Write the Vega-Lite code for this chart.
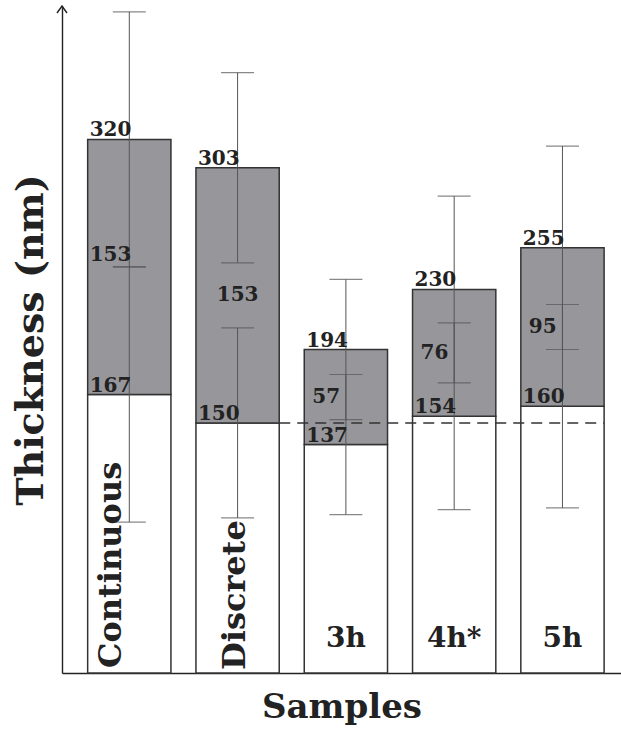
{
  "$schema": "https://vega.github.io/schema/vega-lite/v6.json",
  "autosize": "none",
  "width": 559,
  "height": 667,
  "padding": {"left": 62, "top": 6, "right": 0, "bottom": 60},
  "background": "white",
  "config": {"view": {"stroke": null}, "font": "DejaVu Serif"},
  "datasets": {
    "bars": [
      {"sample": "Continuous", "base": 167, "top": 320, "thick": 153},
      {"sample": "Discrete", "base": 150, "top": 303, "thick": 153},
      {"sample": "3h", "base": 137, "top": 194, "thick": 57},
      {"sample": "4h*", "base": 154, "top": 230, "thick": 76},
      {"sample": "5h", "base": 160, "top": 255, "thick": 95}
    ],
    "errs": [
      {"sample": "Continuous", "center": 167, "err": 76.5},
      {"sample": "Continuous", "center": 320, "err": 76.5},
      {"sample": "Discrete", "center": 150, "err": 57},
      {"sample": "Discrete", "center": 303, "err": 57},
      {"sample": "3h", "center": 137, "err": 42},
      {"sample": "3h", "center": 194, "err": 42},
      {"sample": "4h*", "center": 154, "err": 56},
      {"sample": "4h*", "center": 230, "err": 56},
      {"sample": "5h", "center": 160, "err": 61},
      {"sample": "5h", "center": 255, "err": 61}
    ]
  },
  "resolve": {"scale": {"x": "independent"}},
  "layer": [
    {
      "encoding": {
        "x": {
          "field": "sample", "type": "nominal", "sort": null,
          "scale": {"domain": ["Continuous", "Discrete", "3h", "4h*", "5h"], "paddingInner": 0.231, "paddingOuter": 0.1965, "align": 0.603},
          "axis": {"title": "Samples", "labels": false, "ticks": false, "domain": true, "domainColor": "#222", "domainWidth": 1.4, "titleFont": "DejaVu Serif", "titleFontWeight": "bold", "titleFontSize": 34, "titleColor": "#222", "titlePadding": 17}
        },
        "y": {
          "type": "quantitative",
          "scale": {"domain": [0, 400], "nice": false},
          "axis": {"title": "Thickness (nm)", "labels": false, "ticks": false, "grid": false, "domain": true, "domainColor": "#222", "domainWidth": 1.4, "titleFont": "DejaVu Serif", "titleFontWeight": "bold", "titleFontSize": 38, "titleColor": "#222", "titlePadding": 12}
        }
      },
      "layer": [
        {
          "data": {"name": "bars"},
          "mark": {"type": "bar", "fill": "white", "stroke": "#333", "strokeWidth": 1.5},
          "encoding": {"y": {"field": "base", "type": "quantitative"}}
        },
        {
          "data": {"name": "bars"},
          "mark": {"type": "bar", "fill": "#97979b", "stroke": "#333", "strokeWidth": 1.5},
          "encoding": {"y": {"field": "base", "type": "quantitative"}, "y2": {"field": "top"}}
        },
        {
          "data": {"values": [{"line": "reference"}]},
          "mark": {"type": "rule", "stroke": "#333", "strokeWidth": 1.5, "strokeDash": [11, 7]},
          "encoding": {
            "x": {"datum": "Discrete", "type": "nominal", "bandPosition": 1},
            "x2": {"datum": "5h", "bandPosition": 1},
            "y": {"datum": 150, "type": "quantitative"}
          }
        },
        {
          "data": {"name": "errs"},
          "mark": {"type": "errorbar", "ticks": {"size": 33, "color": "#555", "thickness": 1.2}, "rule": {"color": "#555", "strokeWidth": 1}},
          "encoding": {
            "y": {"field": "center", "type": "quantitative"},
            "yError": {"field": "err"}
          }
        },
        {
          "data": {"name": "bars"},
          "mark": {"type": "text", "align": "left", "baseline": "alphabetic", "dx": 2, "dy": -3, "font": "DejaVu Serif", "fontWeight": "bold", "fontSize": 20, "color": "#222"},
          "encoding": {
            "x": {"field": "sample", "type": "nominal", "bandPosition": 0},
            "y": {"field": "top", "type": "quantitative"},
            "text": {"field": "top"}
          }
        },
        {
          "data": {"name": "bars"},
          "mark": {"type": "text", "align": "left", "baseline": "alphabetic", "dx": 2, "dy": -3, "font": "DejaVu Serif", "fontWeight": "bold", "fontSize": 20, "color": "#222"},
          "encoding": {
            "x": {"field": "sample", "type": "nominal", "bandPosition": 0},
            "y": {"field": "base", "type": "quantitative"},
            "text": {"field": "base"}
          }
        },
        {
          "data": {"name": "bars"},
          "transform": [{"filter": "datum.sample != 'Continuous' && datum.sample != 'Discrete'"}, {"calculate": "(datum.base + datum.top) / 2", "as": "mid"}],
          "mark": {"type": "text", "align": "left", "baseline": "middle", "dx": 8, "font": "DejaVu Serif", "fontWeight": "bold", "fontSize": 20, "color": "#222"},
          "encoding": {
            "x": {"field": "sample", "type": "nominal", "bandPosition": 0},
            "y": {"field": "mid", "type": "quantitative"},
            "text": {"field": "thick"}
          }
        },
        {
          "data": {"name": "bars"},
          "transform": [{"filter": "datum.sample == 'Discrete'"}, {"calculate": "(datum.base + datum.top) / 2", "as": "mid"}],
          "mark": {"type": "text", "align": "center", "baseline": "middle", "font": "DejaVu Serif", "fontWeight": "bold", "fontSize": 20, "color": "#222"},
          "encoding": {
            "x": {"field": "sample", "type": "nominal"},
            "y": {"field": "mid", "type": "quantitative"},
            "text": {"field": "thick"}
          }
        },
        {
          "data": {"name": "bars"},
          "transform": [{"filter": "datum.sample == 'Continuous'"}, {"calculate": "(datum.base + datum.top) / 2", "as": "mid"}],
          "mark": {"type": "text", "align": "left", "baseline": "middle", "dx": 2, "dy": -12, "font": "DejaVu Serif", "fontWeight": "bold", "fontSize": 20, "color": "#222"},
          "encoding": {
            "x": {"field": "sample", "type": "nominal", "bandPosition": 0},
            "y": {"field": "mid", "type": "quantitative"},
            "text": {"field": "thick"}
          }
        },
        {
          "data": {"name": "bars"},
          "transform": [{"filter": "datum.sample == 'Continuous'"}],
          "mark": {"type": "text", "angle": -90, "align": "left", "baseline": "alphabetic", "dx": 5, "dy": -8, "font": "DejaVu Serif", "fontWeight": "bold", "fontSize": 32, "color": "#222"},
          "encoding": {
            "x": {"field": "sample", "type": "nominal"},
            "y": {"datum": 0, "type": "quantitative"},
            "text": {"field": "sample"}
          }
        },
        {
          "data": {"name": "bars"},
          "transform": [{"filter": "datum.sample == 'Discrete'"}],
          "mark": {"type": "text", "angle": -90, "align": "left", "baseline": "alphabetic", "dx": 3, "dy": 7, "font": "DejaVu Serif", "fontWeight": "bold", "fontSize": 32, "color": "#222"},
          "encoding": {
            "x": {"field": "sample", "type": "nominal"},
            "y": {"datum": 0, "type": "quantitative"},
            "text": {"field": "sample"}
          }
        },
        {
          "data": {"name": "bars"},
          "transform": [{"filter": "datum.sample != 'Continuous' && datum.sample != 'Discrete'"}],
          "mark": {"type": "text", "align": "center", "baseline": "alphabetic", "dy": -26, "font": "DejaVu Serif", "fontWeight": "bold", "fontSize": 28, "color": "#222"},
          "encoding": {
            "x": {"field": "sample", "type": "nominal"},
            "y": {"datum": 0, "type": "quantitative"},
            "text": {"field": "sample"}
          }
        }
      ]
    },
    {
      "data": {"values": [{"axis": "y"}]},
      "mark": {"type": "point", "shape": "M-1,1.4L0,0L1,1.4", "filled": false, "fill": null, "stroke": "#222", "strokeWidth": 1.4, "size": 100, "opacity": 1},
      "encoding": {
        "x": {"datum": 0, "type": "quantitative", "scale": {"domain": [0, 1]}, "axis": null},
        "y": {"datum": 400, "type": "quantitative"}
      }
    }
  ]
}
